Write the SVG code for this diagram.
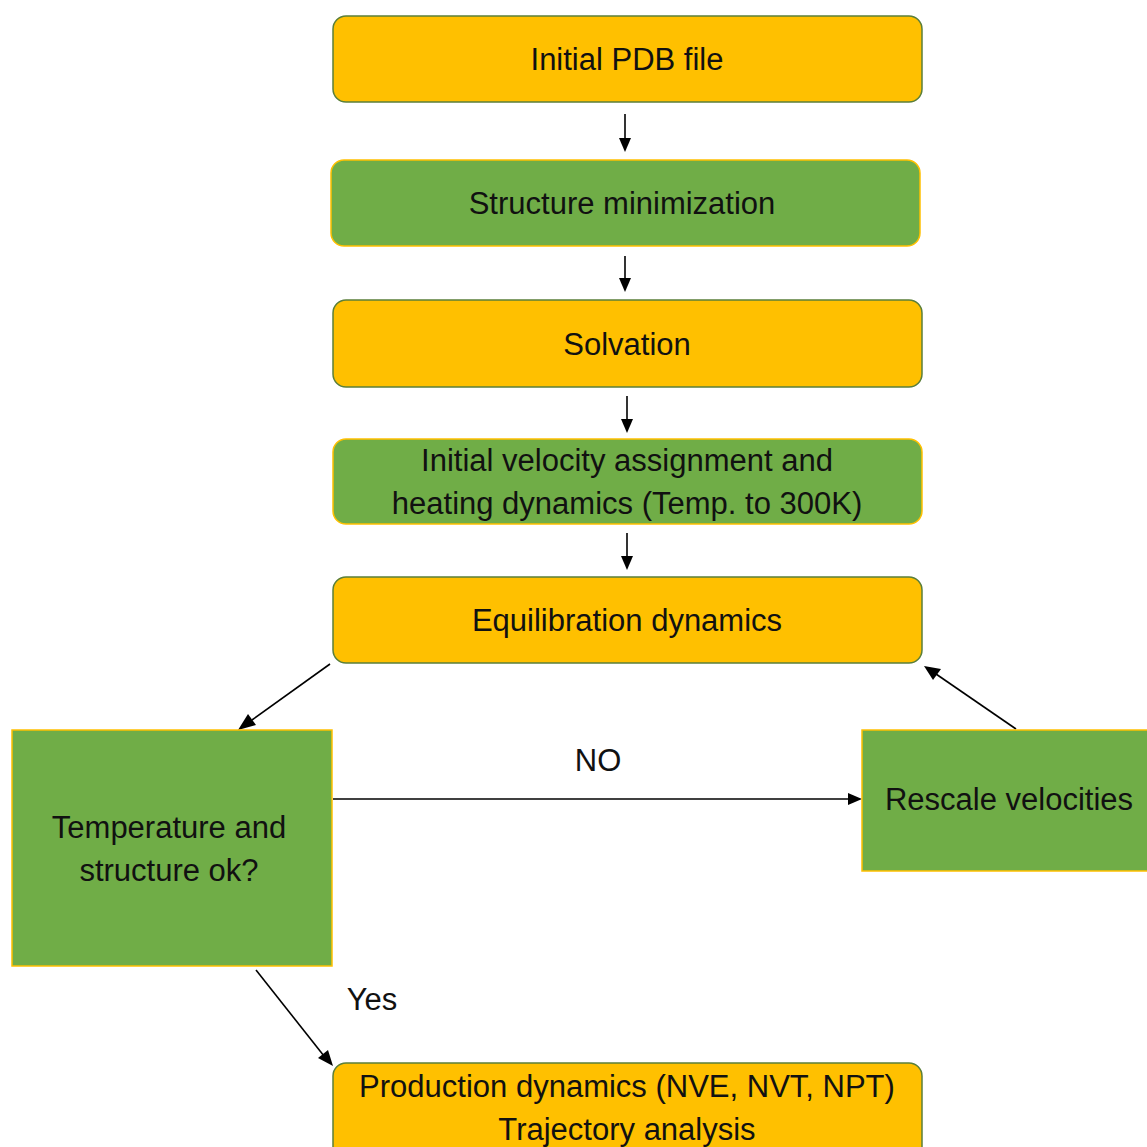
<svg xmlns="http://www.w3.org/2000/svg" width="1147" height="1147" viewBox="0 0 1147 1147">
<defs>
<style>
.o{fill:#FFC000;stroke:#5B7F3A;stroke-width:1.5}
.g{fill:#70AD47;stroke:#FFC000;stroke-width:1.5}
.t{font-family:"Liberation Sans",Arial,sans-serif;font-size:31px;fill:#111;text-anchor:middle}
.c{stroke:#000;stroke-width:1.6;fill:none}
.h{fill:#000}
</style>
</defs>
<rect width="1147" height="1147" fill="#fff"/>
<g id="connectors">
<line class="c" x1="625" y1="114" x2="625" y2="140"/>
<path class="h" d="M619,138 L625,152 L631,138 z"/>
<line class="c" x1="625" y1="256" x2="625" y2="280"/>
<path class="h" d="M619,278 L625,292 L631,278 z"/>
<line class="c" x1="627" y1="396" x2="627" y2="421"/>
<path class="h" d="M621,419 L627,433 L633,419 z"/>
<line class="c" x1="627" y1="533" x2="627" y2="558"/>
<path class="h" d="M621,556 L627,570 L633,556 z"/>
<line class="c" x1="330" y1="664" x2="252" y2="720"/>
<path class="h" d="M238,730 L248,714 L256,725 z"/>
<line class="c" x1="1016" y1="729" x2="936" y2="674"/>
<path class="h" d="M924,666 L941,669 L933,680 z"/>
<line class="c" x1="333" y1="799" x2="850" y2="799"/>
<path class="h" d="M862,799 L848,793 L848,805 z"/>
<line class="c" x1="256" y1="970" x2="324" y2="1056"/>
<path class="h" d="M333,1066 L318,1058 L328,1050 z"/>
<text class="t" x="598" y="771">NO</text>
<text class="t" x="372" y="1010">Yes</text>
</g>
<g id="n1"><rect class="o" x="333" y="16" width="589" height="86" rx="13"/><text class="t" x="627" y="70">Initial PDB file</text></g>
<g id="n2"><rect class="g" x="331" y="160" width="589" height="86" rx="13"/><text class="t" x="622" y="214">Structure minimization</text></g>
<g id="n3"><rect class="o" x="333" y="300" width="589" height="87" rx="13"/><text class="t" x="627" y="355">Solvation</text></g>
<g id="n4"><rect class="g" x="333" y="439" width="589" height="85" rx="13"/><text class="t" x="627" y="471">Initial velocity assignment and</text><text class="t" x="627" y="514">heating dynamics (Temp. to 300K)</text></g>
<g id="n5"><rect class="o" x="333" y="577" width="589" height="86" rx="13"/><text class="t" x="627" y="631">Equilibration dynamics</text></g>
<g id="n6"><rect class="g" x="12" y="730" width="320" height="236"/><text class="t" x="169" y="838">Temperature and</text><text class="t" x="169" y="881">structure ok?</text></g>
<g id="n7"><rect class="g" x="862" y="730" width="290" height="141"/><text class="t" x="1009" y="810">Rescale velocities</text></g>
<g id="n8"><rect class="o" x="333" y="1063" width="589" height="100" rx="13"/><text class="t" x="627" y="1097">Production dynamics (NVE, NVT, NPT)</text><text class="t" x="627" y="1140">Trajectory analysis</text></g>
</svg>
